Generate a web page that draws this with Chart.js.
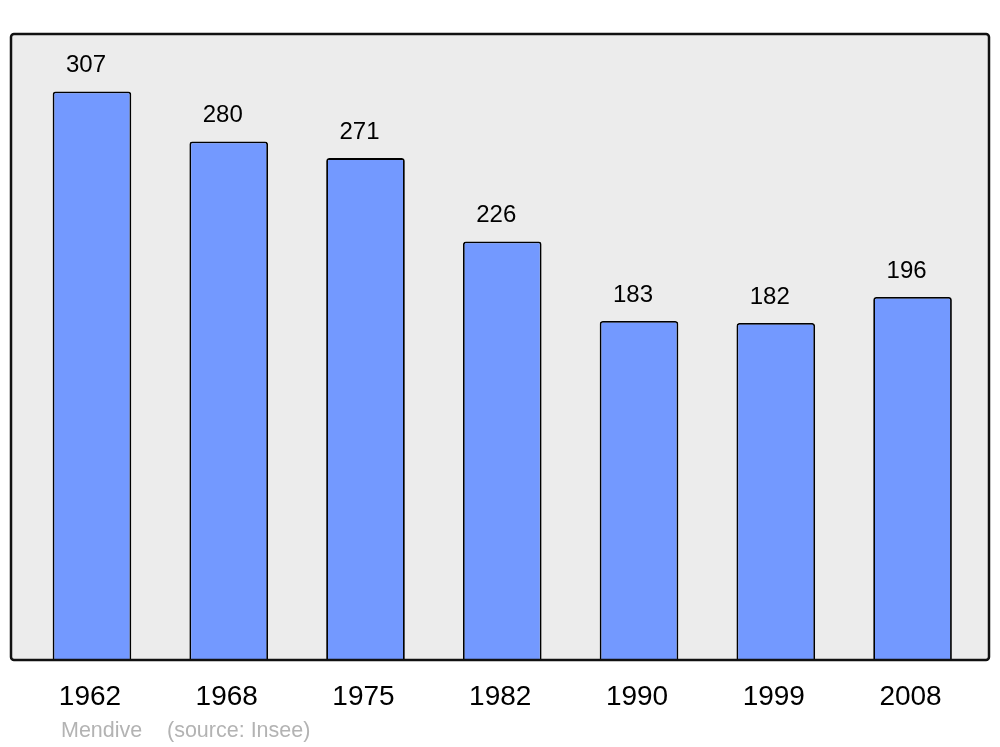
<!DOCTYPE html>
<html>
<head>
<meta charset="utf-8">
<script src="https://cdn.jsdelivr.net/npm/chart.js@4/dist/chart.umd.min.js"></script>
<style>
  html, body { margin: 0; padding: 0; background: #fff; }
  #wrap { width: 1000px; height: 747px; position: relative; }
</style>
</head>
<body>
<div id="wrap"><canvas id="popChart" width="1000" height="747"></canvas></div>
<script>
var years = ["1962", "1968", "1975", "1982", "1990", "1999", "2008"];
var population = [307, 280, 271, 226, 183, 182, 196];
var footerName = "Mendive";
var footerSource = "(source: Insee)";

// frame behind the bars = chart area
var framePlugin = {
  id: "frame",
  beforeDatasetsDraw: function (chart) {
    var a = chart.chartArea;
    var ctx = chart.ctx;
    ctx.save();
    ctx.beginPath();
    ctx.roundRect(a.left, a.top, a.right - a.left, a.bottom - a.top, 3);
    ctx.fillStyle = "#ececec";
    ctx.fill();
    ctx.restore();
  },
  afterDatasetsDraw: function (chart) {
    var a = chart.chartArea;
    var ctx = chart.ctx;
    ctx.save();
    ctx.beginPath();
    ctx.roundRect(a.left, a.top, a.right - a.left, a.bottom - a.top, 3);
    ctx.lineWidth = 2.5;
    ctx.strokeStyle = "#111";
    ctx.stroke();

    // value labels
    ctx.fillStyle = "#000";
    ctx.font = "24px 'Liberation Sans', Arial, sans-serif";
    ctx.textAlign = "center";
    ctx.textBaseline = "alphabetic";
    chart.getDatasetMeta(0).data.forEach(function (bar, i) {
      ctx.fillText(String(population[i]), bar.x - 6, bar.y - 19);
    });

    // footer
    ctx.fillStyle = "#b3b3b3";
    ctx.font = "21.5px 'Liberation Sans', Arial, sans-serif";
    ctx.textAlign = "left";
    ctx.fillText(footerName, 61, 737);
    ctx.fillText(footerSource, 167, 737);
    ctx.restore();
  },
};

var ctx = document.getElementById("popChart").getContext("2d");
new Chart(ctx, {
  type: "bar",
  data: {
    datasets: [
      {
        data: population.map(function (v, i) { return { x: i, y: v }; }),
        backgroundColor: "#7399ff",
        borderColor: "#000",
        borderWidth: 1.8,
        borderRadius: 3,
        borderSkipped: "bottom",
        categoryPercentage: 1,
        barPercentage: 0.575,
      },
    ],
  },
  options: {
    responsive: false,
    animation: false,
    layout: { padding: { top: 34, left: 11, right: 11, bottom: 0 } },
    plugins: { legend: { display: false }, tooltip: { enabled: false } },
    scales: {
      x: {
        type: "linear",
        offset: false,
        min: -0.592,
        max: 6.559,
        grid: { display: false, drawTicks: false },
        border: { display: false },
        afterBuildTicks: function (scale) {
          scale.ticks = years.map(function (y, i) { return { value: i }; });
        },
        afterFit: function (scale) { scale.height = 87; },
        ticks: {
          color: "#000",
          padding: 20,
          labelOffset: -2,
          font: { size: 28, family: "'Liberation Sans', Arial, sans-serif" },
          maxRotation: 0,
          autoSkip: false,
          callback: function (v) { return years[v]; },
        },
      },
      y: {
        display: false,
        min: 0,
        max: 338,
      },
    },
  },
  plugins: [framePlugin],
});
</script>
</body>
</html>
